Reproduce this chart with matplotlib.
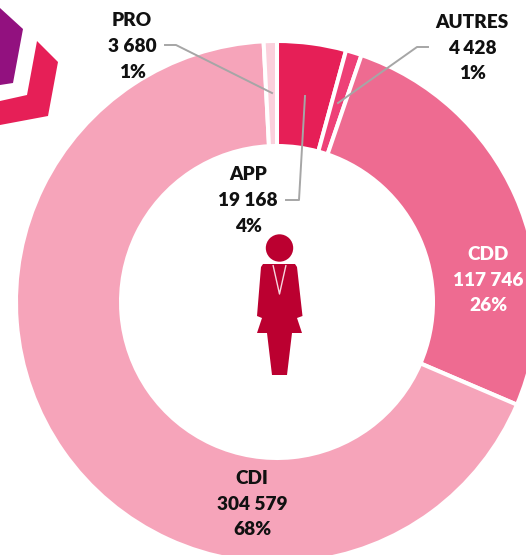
import matplotlib
matplotlib.use("Agg")
import matplotlib.pyplot as plt
from matplotlib.patches import Polygon, Circle

# data, clockwise from 12 o'clock
names = ["APP", "AUTRES", "CDD", "CDI", "PRO"]
values = [19168, 4428, 117746, 304579, 3680]
value_labels = ["19 168", "4 428", "117 746", "304 579", "3 680"]
pct_labels = ["4%", "1%", "26%", "68%", "1%"]
colors = ["#E61F57", "#EE4077", "#EE6B91", "#F6A4BA", "#FBD0DC"]

W, H = 526, 555


def fy(y):
    # pixel row from the top -> axes y
    return H - y


plt.rcParams['font.family'] = ['Lato', 'DejaVu Sans']
fig = plt.figure(figsize=(W / 100, H / 100), dpi=100)
ax = fig.add_axes([0, 0, 1, 1])

# donut
cx, cy = 277, fy(302)
outer = 261
inner = 156
wedges, _ = ax.pie(values, colors=colors, startangle=90, counterclock=False,
                   center=(cx, cy), radius=outer, frame=True,
                   wedgeprops=dict(width=outer - inner, edgecolor='white', linewidth=2.9))
ax.set_xlim(0, W)
ax.set_ylim(0, H)
ax.set_aspect('equal')
ax.axis('off')

# corner logo shapes
ax.add_patch(Polygon([(0, fy(8)), (23, fy(29)), (13, fy(83)), (0, fy(85))], color="#92117F", lw=0))
ax.add_patch(Polygon([(37, fy(41)), (58, fy(62)), (48, fy(116)), (0, fy(125)), (0, fy(101)), (27, fy(95))],
                     color="#E61F57", lw=0))

# woman icon
icon = "#BB0030"
ax.add_patch(Circle((279.5, fy(248)), 13.7, color=icon, lw=0))
body = [(263, fy(264)), (295, fy(264)), (297, fy(267)), (302.5, fy(316)), (297, fy(318)), (302, fy(333)),
        (292, fy(333)), (287, fy(375)), (272, fy(375)), (267, fy(333)), (257, fy(333)), (262, fy(318)),
        (257, fy(316)), (261, fy(267))]
ax.add_patch(Polygon(body, color=icon, lw=0))
ax.plot([273, 279.5, 286], [fy(265), fy(294), fy(265)], color="#F7D5DE", lw=1.0, solid_capstyle='butt')
ax.add_patch(Polygon([(276.5, fy(265)), (282, fy(265)), (281, fy(268)), (282, fy(284)), (279.5, fy(291)),
                      (277, fy(284)), (278, fy(268))], color=icon, lw=0))

# leader lines
line_color = "#A6A6A6"
ax.plot([165, 176, 272], [fy(45), fy(45), fy(93)], color=line_color, lw=1.4)
ax.plot([428, 417, 338], [fy(47), fy(47), fy(103)], color=line_color, lw=1.4)
ax.plot([286, 299, 305], [fy(200), fy(200), fy(96)], color=line_color, lw=1.4)

# labels
label_pos = [(248, 200.5), (472, 48), (488, 280), (252, 504), (132, 46.5)]
label_col = ["#111111", "#111111", "white", "#111111", "#111111"]
for i in range(len(names)):
    txt = names[i] + "\n" + value_labels[i] + "\n" + pct_labels[i]
    ax.text(label_pos[i][0], fy(label_pos[i][1]), txt, ha='center', va='center', fontsize=13.7,
            fontweight='heavy', color=label_col[i], linespacing=1.62, zorder=6)

fig.savefig("out.png", dpi=100)
